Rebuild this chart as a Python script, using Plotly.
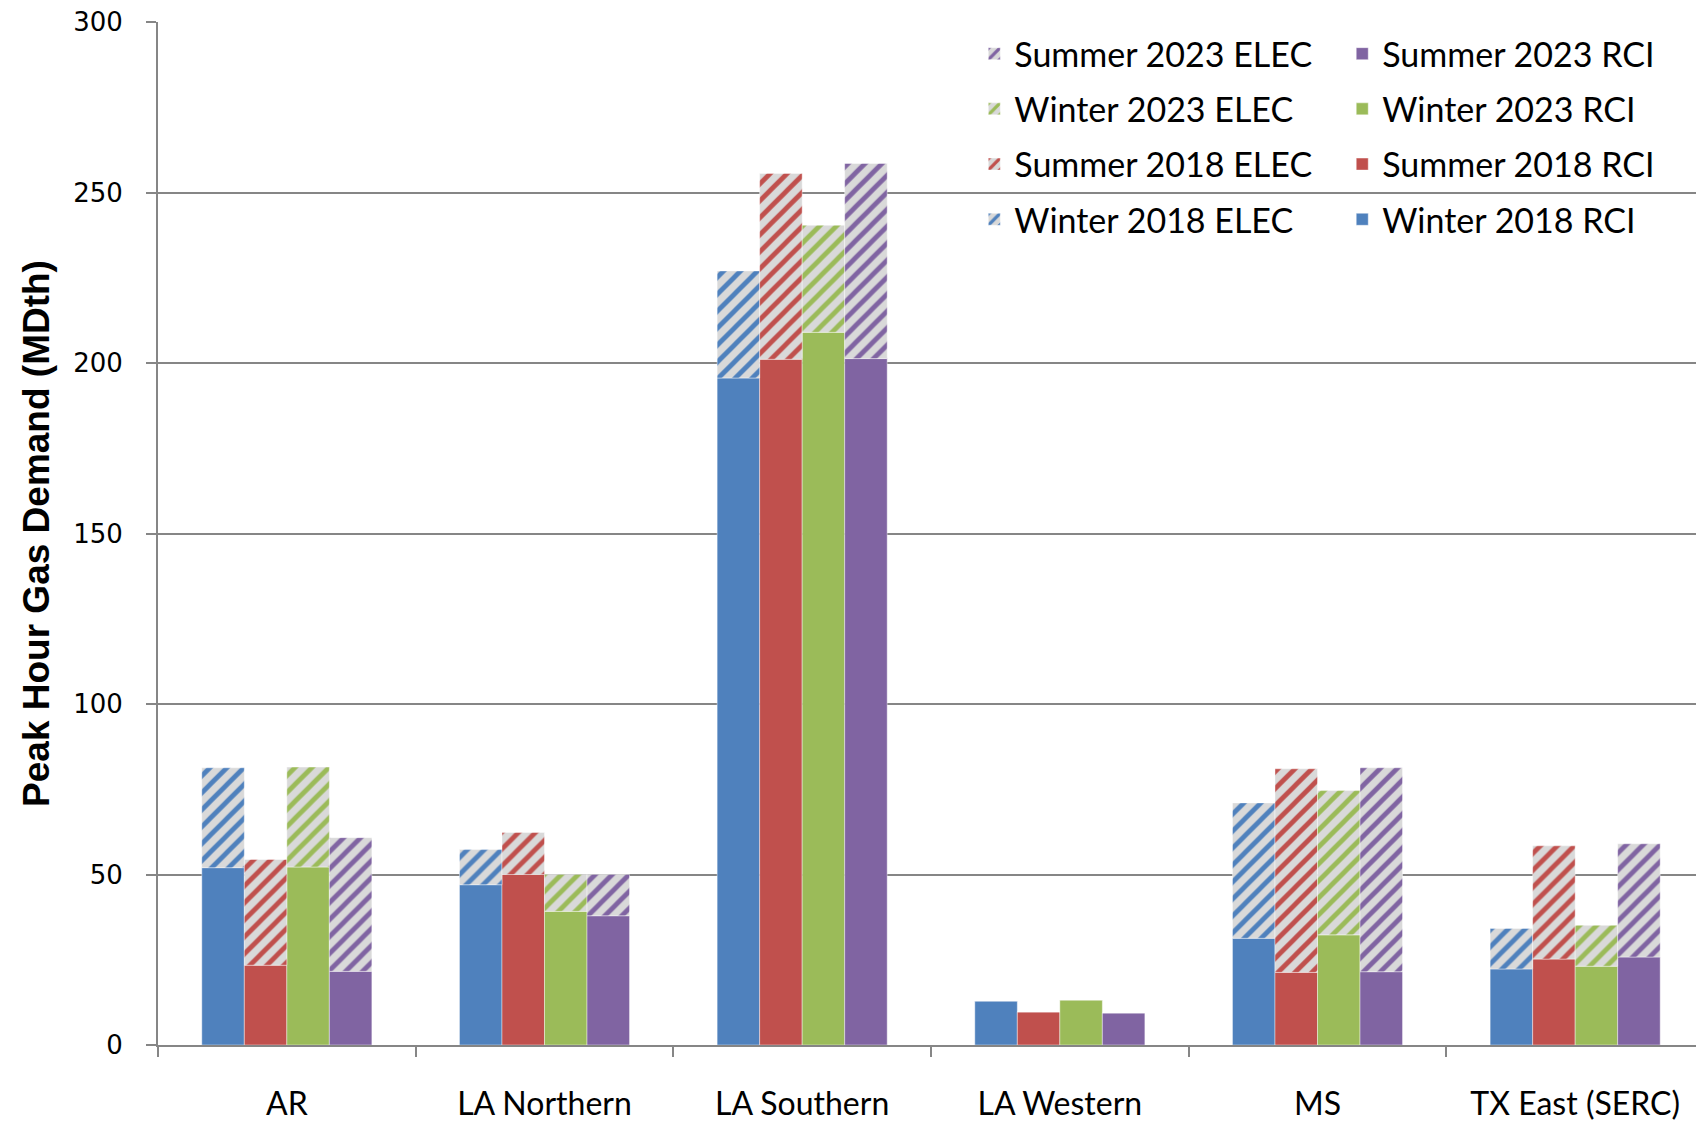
import plotly.graph_objects as go

regions = ['AR', 'LA Northern', 'LA Southern', 'LA Western', 'MS', 'TX East (SERC)']
seasons = ['Winter 2018', 'Summer 2018', 'Winter 2023', 'Summer 2023']
colors = ['#4F81BD', '#C0504D', '#9BBB59', '#8064A2']

# RCI (solid part) per season, one value per region
rci_winter_2018 = [52.0, 47.0, 195.6, 12.9, 31.3, 22.3]
rci_summer_2018 = [23.4, 50.0, 201.1, 9.7, 21.3, 25.2]
rci_winter_2023 = [52.2, 39.2, 209.0, 13.2, 32.3, 23.1]
rci_summer_2023 = [21.6, 37.9, 201.3, 9.4, 21.5, 25.8]

# ELEC (hatched part, stacked on RCI)
elec_winter_2018 = [29.3, 10.3, 31.4, 0.0, 39.7, 11.9]
elec_summer_2018 = [31.0, 12.3, 54.5, 0.0, 59.7, 33.2]
elec_winter_2023 = [29.3, 10.8, 31.4, 0.0, 42.3, 12.0]
elec_summer_2023 = [39.2, 12.1, 57.2, 0.0, 59.8, 33.2]

rci = [rci_winter_2018, rci_summer_2018, rci_winter_2023, rci_summer_2023]
elec = [elec_winter_2018, elec_summer_2018, elec_winter_2023, elec_summer_2023]

FONT = 'Lato'

fig = go.Figure()
for i, season in enumerate(seasons):
    fig.add_trace(go.Bar(
        x=regions, y=rci[i], name=season + ' RCI', offsetgroup=str(i),
        legendgroup=season + ' RCI', legendrank=100 - i,
        marker=dict(color=colors[i], line=dict(width=0.6, color='rgba(255,255,255,0.7)')),
        legend='legend2',
    ))
for i, season in enumerate(seasons):
    fig.add_trace(go.Bar(
        x=regions, y=elec[i], base=rci[i], name=season + ' ELEC', offsetgroup=str(i),
        legendgroup=season + ' ELEC', legendrank=100 - i,
        marker=dict(color='#D9D9D9',
                    line=dict(width=0.6, color='rgba(255,255,255,0.7)'),
                    pattern=dict(shape='/', fgcolor=colors[i], bgcolor='#D9D9D9',
                                 fgopacity=1, size=12, solidity=0.4)),
        legend='legend',
    ))

legend_style = dict(traceorder='grouped', bgcolor='rgba(0,0,0,0)',
                    font=dict(family=FONT, size=34, color='#000000'),
                    xanchor='left', yanchor='top', itemwidth=30, tracegroupgap=8)

# the page adds an 8px body margin, so the margins below are shifted to compensate
fig.update_layout(
    width=1704, height=1122,
    paper_bgcolor='white', plot_bgcolor='white',
    margin=dict(l=150, r=8, t=14, b=85),
    barmode='group', bargap=0.34, bargroupgap=0,
    showlegend=True,
    legend=dict(x=0.528, y=0.997, **legend_style),
    legend2=dict(x=0.766, y=0.997, **legend_style),
    font=dict(family=FONT, color='#000000'),
)
fig.update_xaxes(
    automargin=False,
    showline=True, linecolor='#868686', linewidth=2,
    ticks='outside', tickson='boundaries', ticklen=10, tickcolor='#868686', tickwidth=2,
    tickfont=dict(family=FONT, size=32, color='#000000'),
    ticklabelstandoff=30,
    showgrid=False,
)
fig.update_yaxes(
    automargin=False,
    range=[0, 300], dtick=50,
    showline=True, linecolor='#868686', linewidth=2,
    ticks='outside', ticklen=10, tickcolor='#868686', tickwidth=2,
    tickfont=dict(family='DejaVu Sans', size=26, color='#000000'),
    ticklabelstandoff=18, ticklabeloverflow='allow',
    showgrid=True, gridcolor='#868686', gridwidth=1.5,
    zeroline=False,
    title=dict(text='<b>Peak Hour Gas Demand (MDth)</b>',
               font=dict(family='Liberation Sans', size=37, color='#000000'),
               standoff=12),
)

fig.write_html('out.html')
